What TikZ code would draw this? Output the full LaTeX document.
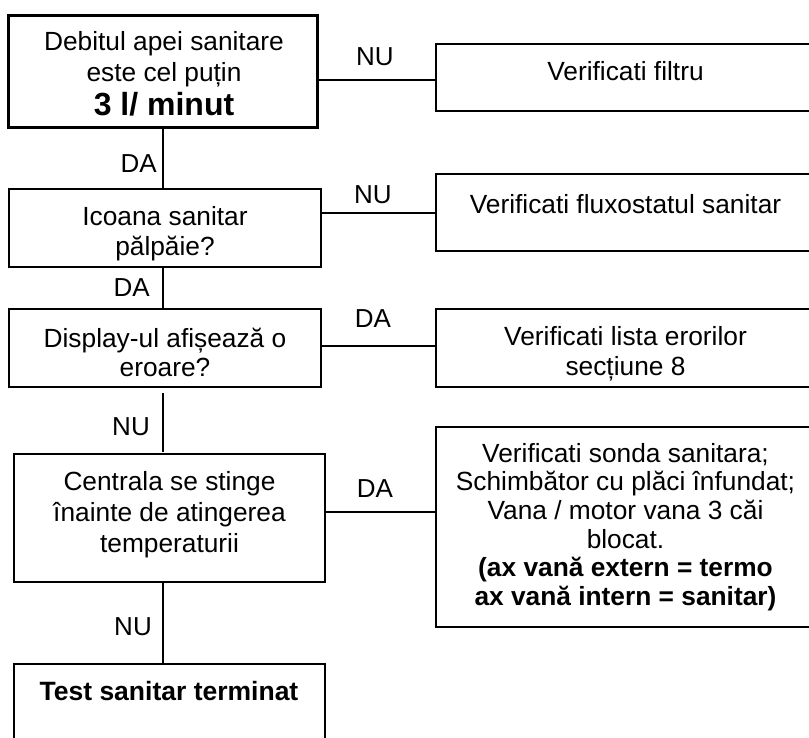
\documentclass[tikz,border=0pt]{standalone}
\usepackage{fontspec}
\setmainfont{Liberation Sans}
\begin{document}
\begin{tikzpicture}[x=1pt,y=-1pt,
  box/.style={draw=black, line width=2pt, rectangle, inner sep=0pt},
  thickbox/.style={box, line width=3pt},
  conn/.style={draw=black, line width=1.7pt},
  txt/.style={inner sep=0pt, anchor=north, align=center, font=\fontsize{26.3}{#1}\selectfont},
  txt/.default=30,
  lbl/.style={inner sep=0pt, font=\fontsize{26}{30}\selectfont}
]
\useasboundingbox (0,0) rectangle (809,738);
\clip (0,0) rectangle (809,738);
% boxes
\node[thickbox, minimum width=309, minimum height=112] (b1) at (163,71.5) {};
\node[box, minimum width=312, minimum height=78] (b2) at (165,228) {};
\node[box, minimum width=312, minimum height=78] (b3) at (165,348) {};
\node[box, minimum width=311, minimum height=128] (b4) at (169.5,518) {};
\node[box, minimum width=311, minimum height=136] (b5) at (169.5,732) {};
\node[box, minimum width=379, minimum height=67] (r1) at (625.5,77.5) {};
\node[box, minimum width=379, minimum height=77] (r2) at (625.5,212.5) {};
\node[box, minimum width=379, minimum height=78] (r3) at (625.5,348) {};
\node[box, minimum width=379, minimum height=200] (r4) at (625.5,527) {};
% texts
\node[txt=31] (t1) at (164,31) {Debitul apei sanitare\\este cel puțin\\[3pt]{\bfseries\fontsize{32}{34}\selectfont 3 l/ minut}};
\node[txt=30] (t2) at (165,206) {Icoana sanitar\\pălpăie?};
\node[txt=28.5] (t3) at (165,328) {Display-ul afișează o\\eroare?};
\node[txt=31] (t4) at (169.5,471) {Centrala se stinge\\înainte de atingerea\\temperaturii};
\node[txt, font=\bfseries\fontsize{26.5}{30}\selectfont] (t5) at (169,681) {Test sanitar terminat};
\node[txt] (u1) at (625.5,61) {Verificati filtru};
\node[txt] (u2) at (625.5,194) {Verificati fluxostatul sanitar};
\node[txt=30] (u3) at (625.5,326) {Verificati lista erorilor\\secțiune 8};
\node[txt=28.6] (u4) at (625.5,443) {Verificati sonda sanitara;\\Schimbător cu plăci înfundat;\\Vana / motor vana 3 căi\\blocat.\\{\bfseries (ax vană extern = termo}\\{\bfseries ax vană intern = sanitar)}};
% connector coordinates
\coordinate (vx) at (163,0);
\coordinate (h1) at (0,80);
\coordinate (h2) at (0,213);
\coordinate (h3) at (0,346);
\coordinate (h4) at (0,512);
% vertical connectors
\draw[conn] (b1.south -| vx) -- (b2.north -| vx);
\draw[conn] (b2.south -| vx) -- (b3.north -| vx);
\draw[conn, shorten <=5pt, shorten >=1pt] (b3.south -| vx) -- (b4.north -| vx);
\draw[conn] (b4.south -| vx) -- (b5.north -| vx);
% horizontal connectors
\draw[conn] (b1.east |- h1) -- (r1.west |- h1);
\draw[conn] (b2.east |- h2) -- (r2.west |- h2);
\draw[conn] (b3.east |- h3) -- (r3.west |- h3);
\draw[conn] (b4.east |- h4) -- (r4.west |- h4);
% labels
\node[lbl, anchor=base] (l1) at (375,66) {NU};
\node[lbl, anchor=base] (l2) at (373,204) {NU};
\node[lbl, anchor=base] (l3) at (373,327) {DA};
\node[lbl, anchor=base] (l4) at (375,497) {DA};
\node[lbl, anchor=base east] (l5) at (157,173) {DA};
\node[lbl, anchor=base east] (l6) at (150,297) {DA};
\node[lbl, anchor=base east] (l7) at (150,435) {NU};
\node[lbl, anchor=base east] (l8) at (152,635) {NU};
\end{tikzpicture}
\end{document}
